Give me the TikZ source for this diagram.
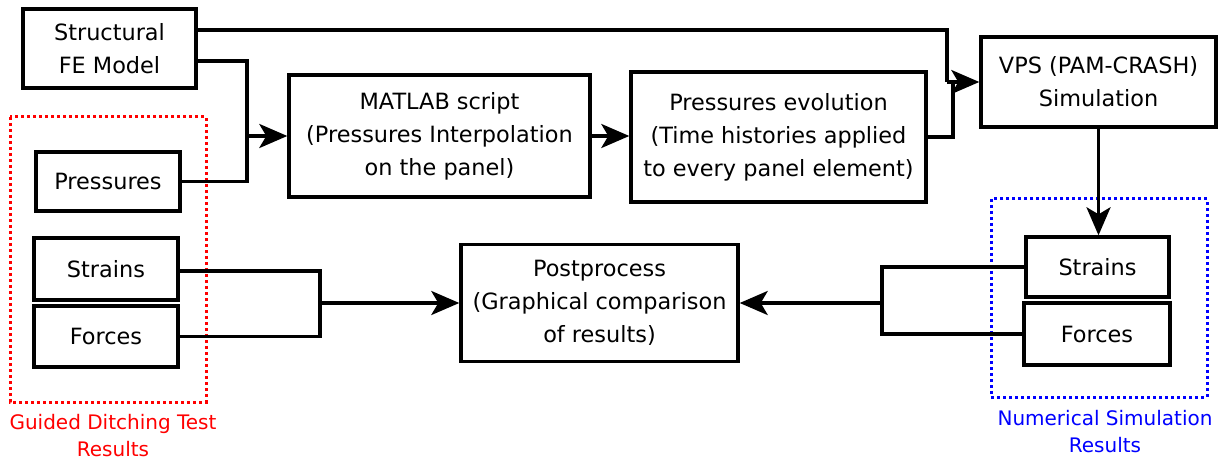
\documentclass[tikz,border=0pt]{standalone}
\usepackage{fontspec}
\setmainfont{DejaVu Sans}
\usetikzlibrary{arrows.meta}
\tikzset{
  box/.style={draw,line width=1.7pt,align=center,inner sep=0pt,font=\fontsize{11.2}{16.5}\selectfont},
  link/.style={line width=1.7pt},
  arr/.style={line width=1.7pt,-{Stealth[length=14pt,width=12pt,inset=3.5pt]}},
  group/.style={line width=1.5pt,dash pattern=on 1.5pt off 1.5pt},
  grouplabel/.style={align=center,font=\fontsize{10}{13.5}\selectfont}
}
\begin{document}
\begin{tikzpicture}[x=0.5pt,y=-0.5pt]
  \useasboundingbox (0,0) rectangle (1219,459);
  % groups
  \draw[group,red] (10,117) rectangle (206,402);
  \draw[group,blue] (991,199) rectangle (1207,397);
  \node[grouplabel,red] (testlbl) at (113,436) {Guided Ditching Test\\Results};
  \node[grouplabel,blue] (numlbl) at (1105,432) {Numerical Simulation\\Results};
  % boxes
  \node[box,minimum width=86.5pt,minimum height=39.5pt] (model) at (109.5,48.5) {Structural\\FE Model};
  \node[box,minimum width=72pt,minimum height=29.5pt] (press) at (108,181.5) {Pressures};
  \node[box,minimum width=150.5pt,minimum height=61pt] (matlab) at (439.5,136) {MATLAB script\\(Pressures Interpolation\\on the panel)};
  \node[box,minimum width=147.5pt,minimum height=65pt] (evol) at (778.5,137) {Pressures evolution\\(Time histories applied\\to every panel element)};
  \node[box,minimum width=117.5pt,minimum height=45pt] (vps) at (1098.5,82) {VPS (PAM-CRASH)\\Simulation};
  \node[box,minimum width=138.5pt,minimum height=58.5pt] (post) at (599.5,303) {Postprocess\\(Graphical comparison\\of results)};
  \node[box,minimum width=72pt,minimum height=31pt] (strL) at (106,269) {Strains};
  \node[box,minimum width=72pt,minimum height=30.5pt] (forL) at (106,336.5) {Forces};
  \node[box,minimum width=71.5pt,minimum height=30pt] (strR) at (1097.5,267) {Strains};
  \node[box,minimum width=73pt,minimum height=31pt] (forR) at (1097,334) {Forces};
  % junctions
  \coordinate (jin) at (247,136);
  \coordinate (jvps) at (947,82);
  \coordinate (jevol) at (953,137);
  \coordinate (jL) at (320,303);
  \coordinate (jR) at (882,303);
  % connectors
  \draw[link] (model.east |- 0,30) -| (jvps);
  \draw[link] (model.east |- 0,61) -| (jin) |- (press.east);
  \draw[arr] (jin) -- (matlab.west |- jin);
  \draw[arr] (matlab.east |- jin) -- (evol.west |- jin);
  \draw[link] (evol.east |- jevol) -- (jevol) -- (jevol |- jvps);
  \draw[arr] (jvps) -- (vps.west |- jvps);
  \draw[arr] (vps.south) -- (strR.north -| vps.south);
  \draw[link] (strL.east |- 0,271) -| (jL) |- (forL.east);
  \draw[arr] (jL) -- (post.west |- jL);
  \draw[link] (strR.west |- 0,267) -| (jR) |- (forR.west);
  \draw[arr] (jR) -- (post.east |- jR);
\end{tikzpicture}
\end{document}
